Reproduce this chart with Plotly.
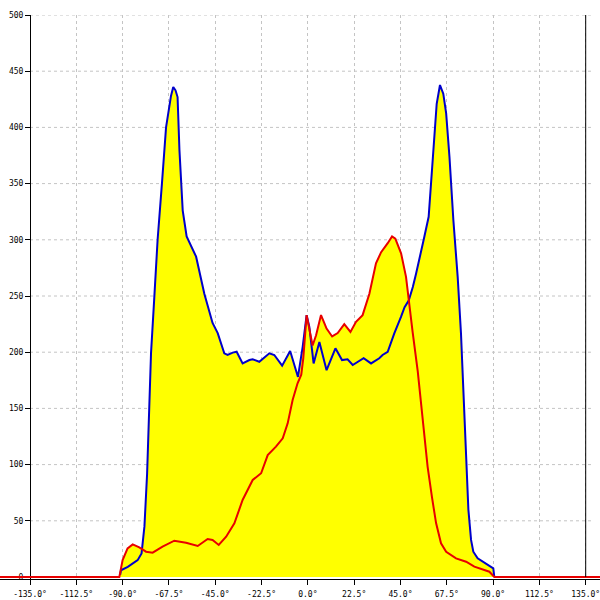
import plotly.graph_objects as go

# ---- data ----
blue_x = [-91.2, -90.8, -87.5, -82.7, -80.8, -79.4, -78.1, -77.0, -76.2, -74.6, -73.0, -70.9,
          -68.9, -66.5, -65.4, -64.3, -63.3, -62.4, -60.8, -58.9, -56.5, -54.3, -50.3, -46.3,
          -43.8, -40.6, -39.0, -36.5, -34.6, -31.7, -28.4, -26.8, -23.6, -18.7, -16.3, -12.5,
          -8.6, -4.8, -2.5, -0.6, 0.7, 2.8, 5.6, 9.1, 13.4, 16.6, 19.3, 21.8, 27.1, 30.7,
          34.7, 36.3, 38.8, 42.0, 45.3, 47.0, 49.0, 51.0, 52.6, 54.2, 56.6, 58.7, 59.9, 61.1,
          62.6, 64.2, 65.8, 67.2, 68.8, 70.7, 72.8, 74.4, 75.3, 76.0, 76.9, 78.0, 79.3, 80.4,
          82.5, 86.6, 89.0, 90.1, 90.6]
blue_y = [2, 6, 9, 15, 21, 45, 92, 152, 199, 249, 300, 350,
          400, 428, 436, 433, 427, 380, 326, 303, 294, 285, 252, 226,
          217, 199, 197.5, 199.6, 200.4, 190, 193, 193.7, 191.5, 199, 197.5, 188,
          201, 178, 205, 233, 222.7, 190, 209, 184, 203.5, 193, 193.7, 188.6, 194.6, 190,
          194.6, 197.5, 200.4, 216.8, 231.6, 240, 246, 258, 270, 282, 302.7, 320.5, 353, 383,
          421, 437.7, 430, 412.5, 374, 317.6, 267, 217, 175, 143, 98, 60, 33, 22.5,
          16.6, 12, 8.6, 7.7, 0]

red_x = [-180, -91.6, -90.0, -87.6, -85.1, -81.9, -78.6, -75.4, -70.6, -64.9, -59.2, -53.5,
         -48.7, -46.3, -43.3, -39.7, -35.7, -31.7, -26.8, -22.7, -19.5, -15.5, -12.2, -9.8,
         -7.4, -5.0, -3.2, -2.2, -0.6, 2.3, 4.0, 6.4, 9.1, 11.8, 14.5, 17.7, 20.7, 23.4,
         26.6, 29.9, 33.1, 35.6, 38.8, 40.9, 42.5, 45.3, 47.7, 49.0, 50.9, 53.4, 55.8, 58.2,
         60.3, 62.3, 64.7, 67.2, 72.0, 76.9, 80.9, 84.9, 88.2, 90.6, 180]
red_y = [0, 0, 15, 25.5, 29, 26.4, 22.5, 21.6, 27, 32.3, 30.5, 27.6,
         33.8, 33, 28.5, 35.9, 47.8, 68.5, 86.3, 92.3, 108.5, 116, 123.4, 136.7,
         157.5, 172.3, 180, 195, 233, 206, 215, 233, 221, 214, 217, 225, 218, 227,
         233, 252, 279, 289, 297, 303, 301, 288, 267, 246, 218, 183, 137, 98,
         71, 48, 30, 22.5, 16.6, 13.6, 9.2, 6.8, 4.7, 0, 0]

x_ticks = [-135.0, -112.5, -90.0, -67.5, -45.0, -22.5, 0.0, 22.5, 45.0, 67.5, 90.0, 112.5, 135.0]
x_tick_text = ["-135.0°", "-112.5°", "-90.0°", "-67.5°", "-45.0°", "-22.5°", "0.0°",
               "22.5°", "45.0°", "67.5°", "90.0°", "112.5°", "135.0°"]
y_ticks = [0, 50, 100, 150, 200, 250, 300, 350, 400, 450, 500]

# ---- styles ----
YELLOW = "#ffff00"
BLUE = "#0000cc"
RED = "#e80000"
GRID = "#c4c4c4"
FONT = dict(family="DejaVu Sans Mono", size=8, color="#000000")

X_RANGE = [-149.58, 141.95]
Y_RANGE = [-1.78, 500]

fig = go.Figure()
# fills (under both lines)
fig.add_trace(go.Scatter(x=blue_x, y=blue_y, mode="none", fill="tozeroy",
                         fillcolor=YELLOW, hoverinfo="skip", showlegend=False))
fig.add_trace(go.Scatter(x=red_x, y=red_y, mode="none", fill="tozeroy",
                         fillcolor=YELLOW, hoverinfo="skip", showlegend=False))
# lines
fig.add_trace(go.Scatter(x=blue_x, y=blue_y, mode="lines",
                         line=dict(color=BLUE, width=2), showlegend=False))
fig.add_trace(go.Scatter(x=red_x, y=red_y, mode="lines",
                         line=dict(color=RED, width=2), showlegend=False))

shapes = []
for v in y_ticks[1:]:
    shapes.append(dict(type="line", xref="x", yref="y", x0=x_ticks[0], x1=138, y0=v, y1=v,
                       line=dict(color=GRID, width=1, dash="3px,3px"), layer="below"))
# right border line at the last x tick
shapes.append(dict(type="line", xref="x", yref="y", x0=x_ticks[-1], x1=x_ticks[-1],
                   y0=0, y1=y_ticks[-1], line=dict(color="#000000", width=1), layer="above"))

fig.update_layout(
    width=600, height=600,
    margin=dict(l=0, r=0, t=15, b=21, pad=0, autoexpand=False),
    paper_bgcolor="#ffffff", plot_bgcolor="#ffffff",
    showlegend=False,
    shapes=shapes,
    xaxis=dict(range=X_RANGE, tickmode="array", tickvals=x_ticks, ticktext=x_tick_text,
               showgrid=True, gridcolor=GRID, griddash="3px,3px", gridwidth=1,
               zeroline=False, showline=True, linecolor="#000000", linewidth=1,
               ticks="outside", ticklen=5, tickcolor="#000000", tickfont=FONT,
               ticklabelstandoff=2, ticklabeloverflow="allow", automargin=False,
               layer="below traces", fixedrange=True),
    yaxis=dict(range=Y_RANGE, tickmode="array", tickvals=y_ticks,
               ticktext=[str(v) for v in y_ticks],
               anchor="free", position=0.05, automargin=False,
               showgrid=False, zeroline=False, showline=True, linecolor="#000000",
               linewidth=1, ticks="outside", ticklen=5, tickcolor="#000000",
               tickfont=FONT, ticklabeloverflow="allow",
               layer="below traces", fixedrange=True),
)

fig.write_html("out.html", config={"displayModeBar": False},
               post_script="document.body.style.margin='0';")
